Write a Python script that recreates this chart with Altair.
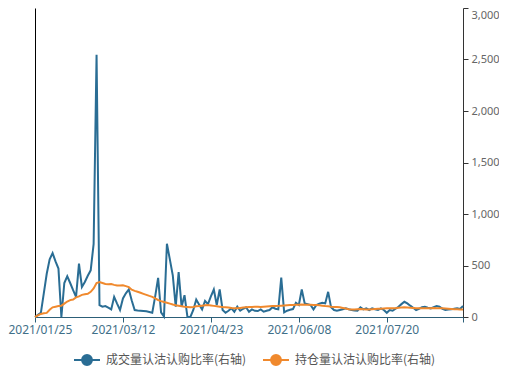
import altair as alt
import pandas as pd

series_names = ["成交量认沽认购比率(右轴)", "持仓量认沽认购比率(右轴)"]
series_colors = ["#2a6d94", "#f0892d"]

tick_idx = [0, 30, 60, 90, 120, 146]
tick_labels = ["2021/01/25", "2021/03/12", "2021/04/23", "2021/06/08", "2021/07/20", ""]
y_ticks = [0, 500, 1000, 1500, 2000, 2500, 3000]

volume_ratio = [
    0, 20, 40, 230, 420, 560, 620, 540, 470, 0,
    330, 395, 330, 260, 195, 518, 292, 340, 400, 453,
    710, 2545, 116, 100, 106, 90, 74, 196, 130, 68,
    180, 230, 267, 160, 68, 64, 61, 58, 55, 48,
    41, 200, 380, 45, 5, 711, 560, 405, 100, 437,
    100, 212, 0, 0, 68, 170, 120, 74, 157, 125,
    200, 267, 116, 267, 68, 41, 60, 84, 51, 100,
    61, 80, 94, 51, 74, 60, 58, 74, 51, 60,
    68, 94, 80, 74, 383, 45, 61, 70, 77, 138,
    116, 267, 132, 125, 116, 74, 116, 130, 138, 132,
    244, 94, 68, 61, 68, 75, 84, 75, 68, 64,
    61, 94, 74, 84, 68, 84, 75, 68, 84, 68,
    41, 68, 61, 80, 100, 125, 148, 132, 110, 90,
    68, 80, 95, 100, 90, 84, 95, 106, 100, 80,
    68, 72, 74, 80, 84, 78, 106,
]

oi_ratio = [
    0, 15, 30, 36, 40, 70, 94, 100, 106, 110,
    130, 150, 164, 170, 190, 200, 215, 220, 225, 244,
    277, 330, 340, 330, 320, 318, 320, 312, 305, 305,
    309, 300, 290, 265, 254, 245, 235, 225, 215, 205,
    196, 180, 165, 154, 145, 138, 130, 122, 115, 110,
    105, 100, 98, 94, 98, 104, 106, 110, 114, 116,
    112, 108, 104, 100, 96, 94, 92, 88, 86, 84,
    88, 92, 94, 96, 98, 100, 100, 98, 100, 102,
    104, 106, 106, 108, 110, 112, 114, 116, 116, 118,
    120, 122, 120, 118, 118, 116, 116, 114, 110, 106,
    104, 100, 98, 96, 94, 88, 82, 76, 74, 74,
    76, 78, 76, 74, 74, 76, 78, 80, 80, 82,
    84, 84, 84, 86, 90, 92, 94, 92, 90, 88,
    86, 84, 84, 84, 84, 86, 88, 86, 84, 84,
    82, 80, 78, 76, 76, 74, 74,
]

rows = []
for name, vals in zip(series_names, [volume_ratio, oi_ratio]):
    for i, v in enumerate(vals):
        rows.append({"idx": i, "value": v, "series": name})
df = pd.DataFrame(rows)

label_map = "{" + ",".join(f"'{i}':'{l}'" for i, l in zip(tick_idx, tick_labels)) + "}"
label_expr = f"{label_map}[''+datum.value] || ''"

legend_path = "M-1,0L1,0M0.38,0A0.38,0.38,0,1,1,-0.38,0A0.38,0.38,0,1,1,0.38,0Z"
legend = alt.Legend(
    title=None, orient="none", direction="horizontal",
    legendX=38, legendY=338,
    symbolType=legend_path, symbolSize=676, symbolStrokeWidth=2,
    symbolOpacity=1,
    labelFont="Noto Sans CJK SC", labelFontSize=12, labelColor="#555555",
    labelOffset=5, columnPadding=12,
)

stroke_scale = alt.Scale(domain=series_names, range=series_colors)

x_enc = alt.X(
    "idx:Q",
    scale=alt.Scale(domain=[0, 146], nice=False, zero=False),
    axis=alt.Axis(
        values=tick_idx, labelExpr=label_expr, title=None, grid=False,
        domainColor="#2c5f78", tickColor="#2c5f78", tickSize=5,
        labelColor="#3f7089", labelFontSize=12, labelFont="Noto Sans",
        labelPadding=2, labelFlush=True, labelFlushOffset=27,
    ),
)

y_scale = alt.Scale(domain=[0, 3000], nice=False)

legend_layer = alt.Chart(df).transform_filter("datum.idx < 0").mark_point(
    filled=True, size=0, opacity=1
).encode(
    x=x_enc,
    y=alt.Y("value:Q", scale=y_scale,
            axis=alt.Axis(orient="left", labels=False, ticks=False, grid=False,
                          title=None, domainColor="#000000", domainWidth=1)),
    fill=alt.Fill("series:N", scale=stroke_scale, legend=legend),
    stroke=alt.Stroke("series:N", scale=stroke_scale, legend=legend),
)

lines = alt.Chart(df).mark_line(strokeWidth=2).encode(
    x=x_enc,
    y=alt.Y("value:Q", scale=y_scale,
            axis=alt.Axis(orient="right", values=y_ticks,
                          labelExpr="format(datum.value, ',')",
                          labelBaseline=alt.expr("datum.value >= 3000 ? 'top' : 'middle'"),
                          labelOffset=alt.expr("datum.value >= 3000 ? 1 : 0"),
                          title=None, grid=False, tickSize=5,
                          labelPadding=3, labelColor="#666666", labelFontSize=11,
                          labelFont="Noto Sans", domainColor="#333333",
                          tickColor="#333333")),
    stroke=alt.Stroke("series:N", scale=stroke_scale, legend=legend),
    detail="series:N",
)

chart = alt.layer(legend_layer, lines).resolve_axis(y="independent").properties(
    width=428, height=309,
    autosize=alt.AutoSizeParams(type="none"),
    padding={"left": 27, "top": 0, "right": 36, "bottom": 60},
).configure_view(stroke=None)

chart.save("out.html", embed_options={"renderer": "svg", "actions": False})
